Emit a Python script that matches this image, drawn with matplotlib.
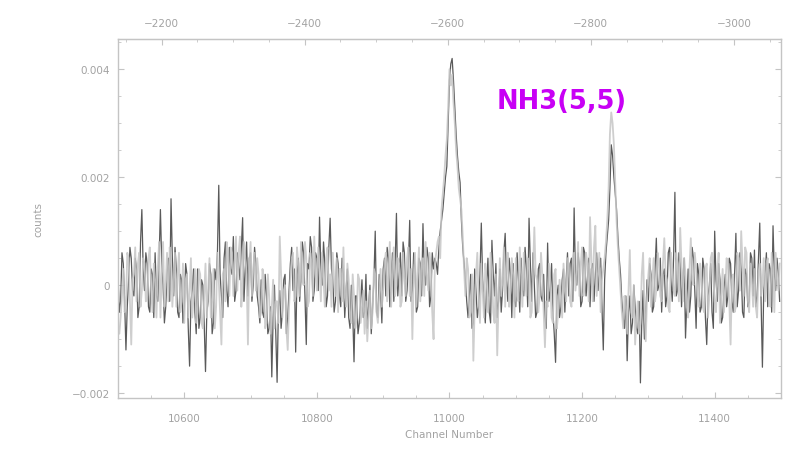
#!/usr/bin/env python3

# NH3(5,5) spectrum: two polarisation traces against channel number,
# with the matching velocity scale along the top axis.

import numpy as np
import matplotlib
matplotlib.use("Agg")
import matplotlib.pyplot as plt
from matplotlib.ticker import MultipleLocator, FixedLocator

# Channel grid (every 2nd channel)
channels = np.arange(10500, 11500, 2)

# Dark trace, units of 1e-4 counts
trace_dark = [
    2, -5, -3, 6, 4, -3, -12, -4, 1, 7, 5, -1, -2, 5, 3, -6, -4, 8, 14, 3,
    -1, 6, 4, -4, -5, 3, 2, -6, 6, -2, -3, 5, 14, 4, 0, -7, -4, 2, 5, -3,
    16, 5, -2, 7, 3, -5, -6, 2, 1, -7, -4, 4, 2, -8, -15, -3, -1, 3, -5, -9,
    3, -8, -6, 1, 0, -7, -16, -5, -3, 4, 2, -9, -7, 3, 1, 6, 18.5, 2, -2, -6,
    5, 8, -1, -4, 7, 3, 2, 9, -3, -1, 6, 4, 1, 7, 12.5, -3, 3, 8, -2, 5,
    6, -3, 0, 7, 4, -2, -4, -7, 1, -5, -6, 2, -2, -9, -8, -4, -17, -6, 0, -9,
    -18, -4, -1, -8, -5, 1, 2, -9, -6, -1, 4, 7, -1, 3, -12.4, 2, 5, -3, 1, 8,
    6, -2, -11, 4, 3, 9, 7, -3, -1, 6, 5, -1, 12.6, 3, 0, 8, 4, -4, -2, 7,
    12.4, 3, 1, -5, -3, 6, 4, -2, -4, 5, 2, -6, -1, 3, -6, -8, 0, -5, -14.2, -2,
    -2, -9, -7, -3, 1, -6, -5, 2, -8, -4, 0, -9, -4, 1, 10, -5, -6, 2, -1, -7,
    3, 5, -2, 7, 5, -4, 0, 6, -3, 4, 13.3, -2, 2, 6, -2, 8, 6, -3, -1, 4,
    12, -3, -1, 6, 3, -5, -4, 5, 4, -2, 11.4, 2, 0, 7, 5, -4, -2, 6, 3, 5,
    4, 2, 7, 10, 12, 14, 17, 20, 22, 30, 38, 41, 42, 38, 33, 28, 24, 21, 19, 12,
    7, 4, 1, -3, -6, -2, 2, -8, -7, 3, -1, -6, -4, 2, 11.5, 1, -3, -7, 0, 5,
    -5, -7, 8.3, 2, -2, 4, -6, -3, 3, -5, -1, 6, 9.6, 1, -3, 5, 2, -6, 4, -3,
    -4, 6, 1, -5, 5, -1, -2, 7, 3, -4, 12.4, 4, -3, 6, 0, -6, -5, 3, 4, -2,
    -3, 2, -6, -8, 7.8, -3, -1, 4, -5, -9, -14.3, -2, 0, -6, -4, 1, 3, -5, 1, 6,
    -2, 4, 5, -3, 14.3, 2, 0, 6, 3, -4, -3, 7, 6, -2, 1, 5, -4, 3, 4, -3,
    2, 6, -1, 3, 5, -4, -12, 1, 6, 9, 12, 18, 26, 24, 20, 17, 14, 9, 5, 2,
    -3, -6, -8, -2, -14, -5, -2, -9, -7, 0, -4, -8, -9, -3, -18.1, -7, -1, -10, -6, 1,
    -3, 4, 2, -5, -4, 3, 8.7, -1, 0, 5, -5, 2, 3, -4, -2, 6, 7, 1, -3, 5,
    17.2, -2, -1, 6, 4, -4, 1, 5, -9.8, -3, 3, -5, -2, 7, 5, -1, -8, 4, 2, -5,
    -4, 5, 3, -6, -11, -2, 0, 4, -5, -8, 10, 1, -3, 4, 1, -7, -6, -1, 2, -4,
    -2, 5, 4, -3, -5, 2, 9.6, -4, -1, 6, 3, -5, -6, 3, 2, -4, -3, 6, 5, -2,
    6.5, -4, -2, 5, 11.5, -3, -15.2, -1, 2, 6, -4, 4, 3, -5, 11, 2, -1, 5, 2, -3,
]

# Light trace, units of 1e-4 counts
trace_light = [
    -8, -9, -6, -2, 3, -5, -4, 6, 5, -3, -11, 1, 2, 7, -3, 4, 6, -4, -1, 5,
    4, -3, -2, 5, 7, -1, -5, 4, 1, -6, 3, 8, -6, 2, 8, -4, 0, 6, -3, 7,
    5, -4, 1, 6, -4, 2, 6, -5, -3, 4, -7, 1, 2, -6, -1, 5, -6, -2, 3, -7,
    -5, 3, 2, -7, -8, -2, 4, -6, -1, 5, -6, -3, 3, -8, -4, 6, 1, -5, -11, 2,
    3, -3, 8, 5, -2, 7, 6, -2, 4, 9, -1, 6, 9, -4, 0, 8, 5, 2, -11, 4,
    8, -2, 3, 6, -1, 5, 2, -6, -5, 3, 1, -8, -7, 2, -2, -9, -4, 1, -8, -3,
    -3, -7, 9, 2, -6, -1, 0, -8, -12, -4, 1, 5, 6, -3, -2, 7, 4, -2, 8, 1,
    0, 8, 5, -4, -3, 6, 4, -2, 9, 2, -1, 7, 3, -3, 6, 1, -4, 5, 7, -1,
    2, -4, 6, 1, -2, 5, -5, 3, 3, -3, 7, -2, -4, 4, 1, -6, -7, 2, -2, -8,
    -6, 2, 1, -7, -4, -1, -9, -3, -10.4, -6, -1, -8, -5, 3, 2, -5, -7, -2, 3, -4,
    -1, 4, 6, -3, 2, 8, -4, 3, 7, -2, 0, 5, 4, -4, -3, 6, 1, -2, 5, 7,
    -2, 3, -10, 1, 6, -4, 2, 7, -3, 4, 5, -2, 8, 2, -1, 6, 3, -5, -10, 4,
    6, 8, 9, 5, 14, 17, 20, 24, 27, 33, 40, 37, 39, 34, 30, 25, 22, 18, 16, 14,
    9, 3, -2, 5, 3, -6, -5, 2, -14, -4, 2, 6, -3, -7, 4, -1, -6, 4, 1, -5,
    -2, 6, 3, -5, -7, 2, -13, -3, 5, -2, 1, 7, -4, 3, 6, -4, -1, 5, 2, -6,
    5, -2, -3, 7, 2, -4, 6, 1, -2, 5, 4, -6, -5, 3, 10.7, 2, 1, -5, -2, 6,
    2, -5, -11.5, -3, -4, 4, 1, -6, -7, 2, 3, -8, -5, 1, -2, -6, 4, -1, -3, 5,
    3, -3, -4, 5, 6, -1, 2, 8, -2, 4, 7, -2, 0, 6, 4, -3, 12.6, 5, -3, 7,
    11, -2, 2, 6, -5, 1, 3, 5, 8, 12, 18, 28, 32, 30, 26, 19, 12, 7, 3, -1,
    -5, -8, -2, -4, -9, -1, 6.5, -5, -6, 0, -11, -6, -3, -9, -7, 2, 6, -4, -10.4, -2,
    2, 5, -4, 1, 5, -3, -1, 6, 4, -2, -3, 4, 8.7, 2, 1, -4, -5, 6, 3, -1,
    -2, 6, 4, -3, 10.6, 4, -3, 5, 2, -4, -6, 3, 8.7, 1, 0, 6, 3, -2, -4, 4,
    1, -4, -5, 3, 4, -6, -2, 5, 6, 1, -3, -5, 2, 6, -7, -2, 3, -5, -1, 5,
    4, -3, -11, 1, 2, -5, -4, 6, 5, -1, 10, 4, -2, 7, 6, -3, -5, 4, 1, -4,
    3, -4, -6, 2, 4, -2, 0, 5, -3, 4, 5, -3, -4, 6, 2, -5, 6, 1, -1, 4,
]

dark = np.array(trace_dark) * 1e-4
light = np.array(trace_light) * 1e-4

line_label = "NH3(5,5)"
label_pos = (11071, 0.00328)

velocity_ticks = [-2200, -2400, -2600, -2800, -3000]

# velocity scale on top axis
ref_channel = 10565.9
ref_velocity = -2200.0
vel_per_chan = 0.927

def chan2vel(c):
    return ref_velocity - (c - ref_channel) * vel_per_chan

def vel2chan(v):
    return ref_channel - (v - ref_velocity) / vel_per_chan

axis_grey = "#c4c4c4"
text_grey = "#a2a2a2"

fig = plt.figure(figsize=(7.94, 4.52), dpi=100)
ax = fig.add_axes([0.1486, 0.1173, 0.835, 0.7942])

# dark trace underneath, light trace over it
ax.plot(channels, dark, color="#5a5a5a", lw=0.9)
ax.plot(channels, light, color="#c6c6c6", lw=1.3, alpha=0.85)

ax.set_xlim(10500, 11500)
ax.set_ylim(-0.00209, 0.00456)

ax.xaxis.set_major_locator(MultipleLocator(200))
ax.xaxis.set_minor_locator(MultipleLocator(50))
ax.yaxis.set_major_locator(MultipleLocator(0.002))
ax.yaxis.set_minor_locator(MultipleLocator(0.0005))
ax.yaxis.set_major_formatter(plt.FuncFormatter(
    lambda v, p: "0" if abs(v) < 1e-9 else ("%.3f" % v).replace("-", "\u2212")))

ax.tick_params(which="both", direction="in", colors=axis_grey,
               labelcolor=text_grey, labelsize=7.5, top=False, right=True)
ax.tick_params(which="major", length=4)
ax.tick_params(which="minor", length=2.5)
ax.tick_params(axis="x", pad=11)
ax.tick_params(axis="y", pad=6)

for s in ax.spines.values():
    s.set_color(axis_grey)
    s.set_linewidth(1.0)

top = ax.secondary_xaxis("top", functions=(chan2vel, vel2chan))
top.xaxis.set_major_locator(FixedLocator(velocity_ticks))
top.xaxis.set_minor_locator(FixedLocator(np.arange(-2150, -3051, -50)))
top.xaxis.set_major_formatter(plt.FuncFormatter(
    lambda v, p: ("%d" % round(v)).replace("-", "\u2212")))
top.tick_params(which="both", direction="in", colors=axis_grey,
                labelcolor=text_grey, labelsize=7.5, pad=8)
top.tick_params(which="major", length=4)
top.tick_params(which="minor", length=2.5)
top.spines["top"].set_color(axis_grey)

ax.set_xlabel("Channel Number", color=text_grey, fontsize=7.5, labelpad=4)
ax.set_ylabel("counts", color=text_grey, fontsize=7.5, labelpad=20)

ax.text(label_pos[0], label_pos[1], line_label, color="#c800f5",
        fontsize=18.5, fontweight="bold", ha="left", va="baseline")

fig.savefig("out.png", dpi=100)
